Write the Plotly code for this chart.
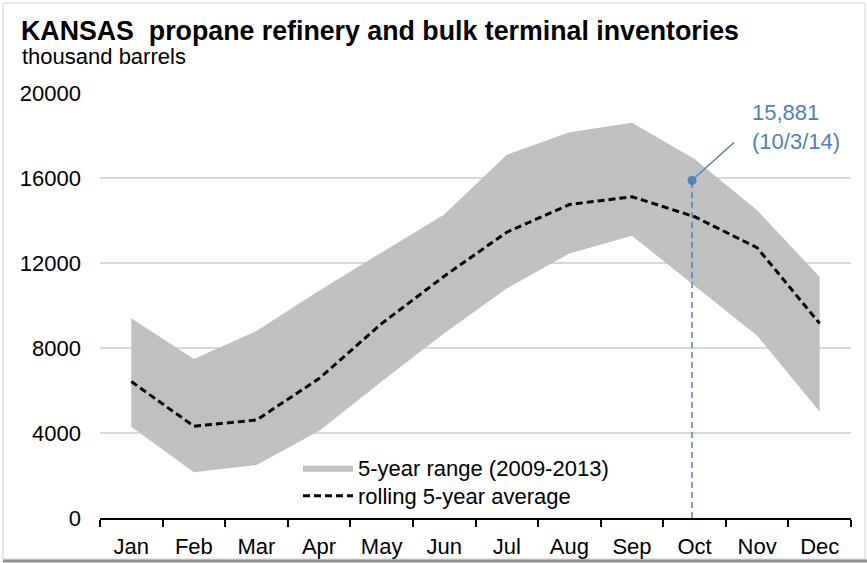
import plotly.graph_objects as go

months = ["Jan", "Feb", "Mar", "Apr", "May", "Jun", "Jul", "Aug", "Sep", "Oct", "Nov", "Dec"]
range_low = [4300, 2150, 2500, 4100, 6420, 8700, 10800, 12450, 13280, 10950, 8580, 5000]
range_high = [9400, 7480, 8800, 10700, 12500, 14280, 17100, 18150, 18600, 16900, 14480, 11340]
avg_5yr = [6420, 4320, 4610, 6560, 9150, 11380, 13450, 14750, 15120, 14180, 12720, 9150]
yticks = [0, 4000, 8000, 12000, 16000, 20000]

point_x = [8.96]
point_y = [15881]
point_label = "15,881<br>(10/3/14)"

xs = list(range(len(months)))
BLUE = "#4f81bd"
FONT = "Liberation Sans, Arial, sans-serif"

W, H = 867, 563
L, R, T, B = 100, 16, 93, 45
pw, ph = W - L - R, H - T - B
def px(xp):
    return (xp - L) / pw
def py(yp):
    return (H - B - yp) / ph

fig = go.Figure()
fig.add_trace(go.Scatter(x=xs, y=range_low, mode="lines", line=dict(width=0, color="#c0c0c0"),
                         showlegend=False, hoverinfo="skip"))
fig.add_trace(go.Scatter(x=xs, y=range_high, mode="lines", line=dict(width=0, color="#c0c0c0"),
                         fill="tonexty", fillcolor="#c0c0c0", name="5-year range (2009-2013)",
                         legend="legend"))
fig.add_trace(go.Scatter(x=xs, y=avg_5yr, mode="lines",
                         line=dict(color="black", width=3, dash="7px,4px"),
                         name="rolling 5-year average", legend="legend2"))
fig.add_trace(go.Scatter(x=[point_x[0], point_x[0]], y=[0, point_y[0]], mode="lines",
                         line=dict(color=BLUE, width=1.5, dash="6px,4px"), showlegend=False))
fig.add_trace(go.Scatter(x=point_x, y=point_y, mode="markers",
                         marker=dict(color=BLUE, size=9), showlegend=False))

fig.add_shape(type="line", xref="x", yref="y", xsizemode="pixel", ysizemode="pixel",
              xanchor=point_x[0], yanchor=point_y[0], x0=3, y0=3, x1=42, y1=38,
              line=dict(color=BLUE, width=1.5))
fig.add_annotation(x=point_x[0], y=point_y[0], xref="x", yref="y", text=point_label,
                   showarrow=False, xanchor="left", yanchor="middle", align="left",
                   xshift=58, yshift=54, font=dict(family=FONT, size=22, color=BLUE))

# subtitle
fig.add_annotation(x=px(20), y=py(57), xref="paper", yref="paper", text="thousand barrels",
                   showarrow=False, xanchor="left", yanchor="middle",
                   font=dict(family=FONT, size=22, color="black"))

# frame
fig.add_shape(type="rect", xref="paper", yref="paper", x0=px(3), x1=px(865), y0=py(559), y1=py(3),
              line=dict(color="#d4d4d4", width=1), layer="below")
fig.add_shape(type="line", xref="paper", yref="paper", x0=px(3), x1=px(867), y0=py(561), y1=py(561),
              line=dict(color="#8c8c8c", width=3), layer="below")

leg_common = dict(xanchor="left", yanchor="top", bgcolor="rgba(0,0,0,0)",
                  font=dict(family=FONT, size=22), itemwidth=50, tracegroupgap=0)

fig.update_layout(
    width=W, height=H,
    margin=dict(l=L, r=R, t=T, b=B, autoexpand=False),
    paper_bgcolor="white", plot_bgcolor="white",
    font=dict(family=FONT, size=22, color="black"),
    title=dict(text="<b>KANSAS  propane refinery and bulk terminal inventories</b>",
               x=21 / W, xanchor="left", xref="container", y=1 - 31 / H, yanchor="middle", yref="container",
               pad=dict(l=0, r=0, t=0, b=0),
               font=dict(family=FONT, size=26.75, color="black")),
    showlegend=True,
    legend=dict(x=px(298), y=py(447), **leg_common),
    legend2=dict(x=px(298), y=py(475), **leg_common),
    xaxis=dict(range=[-0.5, 11.5], tickmode="array", tickvals=xs, ticktext=months, ticks="",
               showgrid=False, zeroline=False, showline=True, linecolor="black", linewidth=1.5,
               automargin=False,
               ticklabelstandoff=8, tickfont=dict(family=FONT, size=22),
               minor=dict(tickmode="array", tickvals=[i - 0.5 for i in range(13)], ticks="outside",
                          ticklen=7, tickwidth=1.5, tickcolor="black", showgrid=False)),
    yaxis=dict(range=[0, 20000], tickmode="array", tickvals=yticks, ticktext=[str(v) for v in yticks],
               showgrid=True, gridcolor="#d9d9d9", gridwidth=1.5, zeroline=False, showline=False,
               automargin=False,
               ticks="", ticklabelstandoff=18, tickfont=dict(family=FONT, size=22)),
)

fig.write_html("out.html", config={"displayModeBar": False},
               post_script="document.body.style.margin='0';document.body.style.overflow='hidden';")
